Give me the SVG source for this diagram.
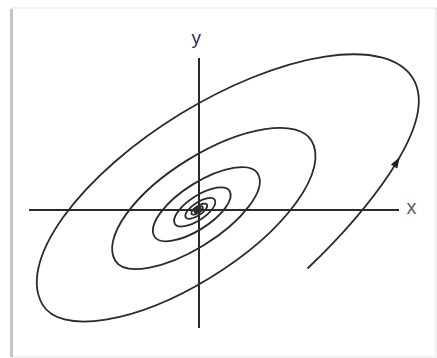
<svg xmlns="http://www.w3.org/2000/svg" width="437" height="358" viewBox="0 0 437 358">
<style>
.axis{stroke:#2a2a2a;stroke-width:2;fill:none}
.curve{stroke:#2b2b2b;stroke-width:1.8;fill:none;stroke-linecap:round}
.head{fill:#1f1f1f;stroke:none}
.lbl{font-family:"Liberation Sans",Arial,sans-serif}
</style>
<rect x="0" y="0" width="437" height="358" fill="#ffffff"/>
<g id="frame">
<rect x="12" y="8" width="424" height="349" fill="#ffffff" stroke="#e2e2e2" stroke-width="1"/>
<line x1="11.5" y1="9" x2="11.5" y2="357" stroke="#c4c4c4" stroke-width="3"/>
</g>
<g id="axes">
<line id="x-axis" class="axis" x1="29" y1="210" x2="399" y2="210"/>
<line id="y-axis" class="axis" x1="199" y1="58" x2="199" y2="328"/>
</g>
<g id="labels">
<text id="label-y" class="lbl" x="196.3" y="44.2" font-size="19" text-anchor="middle" fill="#2e3350">y</text>
<text id="label-x" class="lbl" x="406.5" y="214" font-size="20" fill="#595d70">x</text>
</g>
<g id="connectors">
<path id="spiral" class="curve" d="M308 268 C358.4 219.7 441.6 125.2 412.86 78.33 A216.8 91 -31.5 0 0 42.83 305.1 A157.3 64 -31.5 0 0 311.4 140.51 A114.9 48 -31.5 0 0 115.3 260.68 A83.4 33 -31.5 0 0 257.68 173.42 A60.4 24.5 -31.5 0 0 154.52 236.65 A43.9 17.8 -31.5 0 0 229.55 190.67 A31.9 13 -31.5 0 0 174.98 224.11 A23.25 9.4 -31.5 0 0 214.71 199.76 A16.9 6.9 -31.5 0 0 185.81 217.47 A12.3 5 -31.5 0 0 206.87 204.57 A8.98 3.65 -31.5 0 0 191.52 213.97 A6.53 2.65 -31.5 0 0 202.69 207.13 A4.74 1.9 -31.5 0 0 194.59 212.09 A3.44 1.4 -31.5 0 0 200.47 208.48 A2.49 1 -31.5 0 0 196.21 211.1"/>
<polygon id="arrowhead" class="head" points="399.8,156.9 397.3,168.5 390.9,164.6"/>
</g>
</svg>
